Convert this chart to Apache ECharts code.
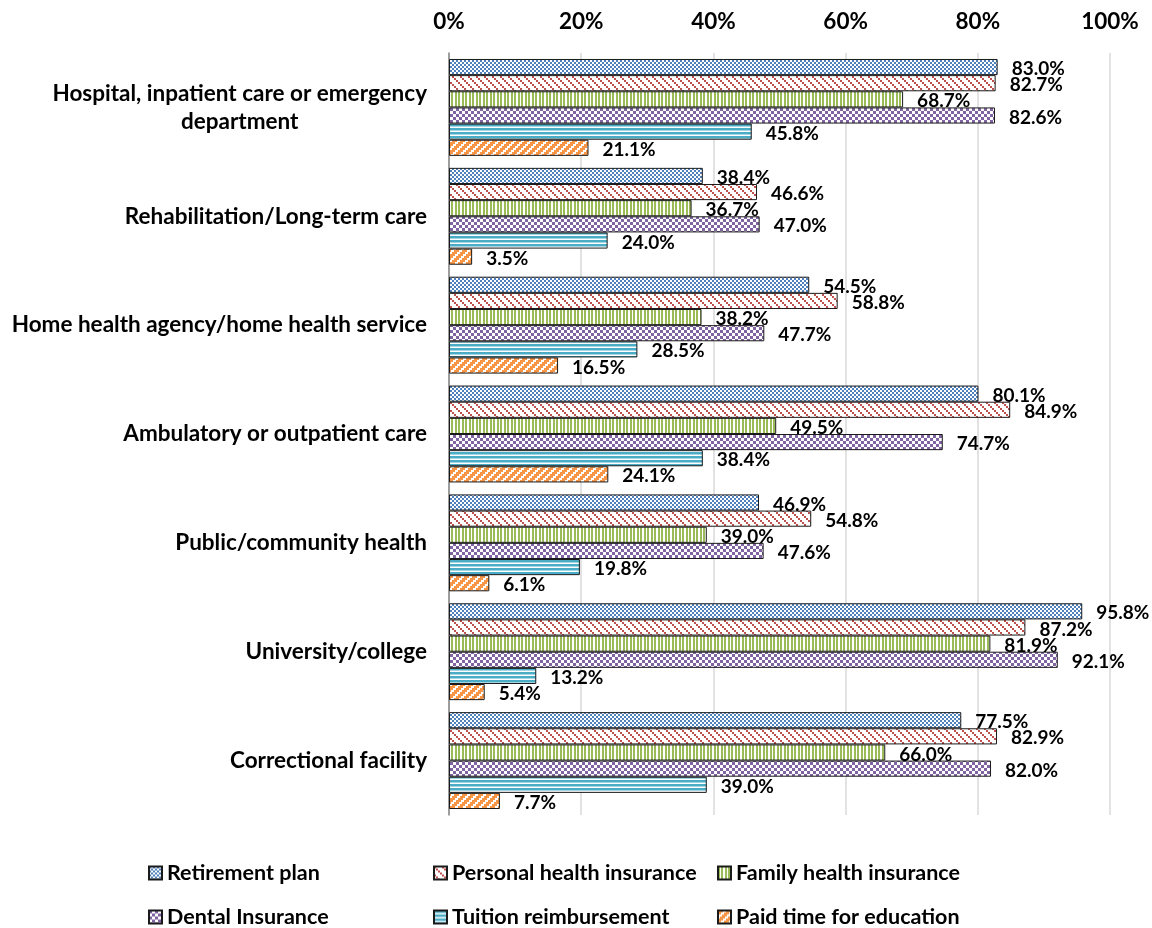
<!DOCTYPE html>
<html>
<head>
<meta charset="utf-8">
<script src="https://cdn.jsdelivr.net/npm/echarts/dist/echarts.min.js"></script>
<style>
  html, body { margin: 0; padding: 0; background: #fff; }
  #chart { width: 1152px; height: 928px; }
</style>
</head>
<body>
<div id="chart"></div>
<script>
// categories, top to bottom
var settings = [
  'Hospital, inpatient care or emergency\ndepartment',
  'Rehabilitation/Long-term care',
  'Home health agency/home health service',
  'Ambulatory or outpatient care',
  'Public/community health',
  'University/college',
  'Correctional facility'
];
var retirement = [83.0, 38.4, 54.5, 80.1, 46.9, 95.8, 77.5];
var personalHealth = [82.7, 46.6, 58.8, 84.9, 54.8, 87.2, 82.9];
var familyHealth = [68.7, 36.7, 38.2, 49.5, 39.0, 81.9, 66.0];
var dental = [82.6, 47.0, 47.7, 74.7, 47.6, 92.1, 82.0];
var tuition = [45.8, 24.0, 28.5, 38.4, 19.8, 13.2, 39.0];
var paidTime = [21.1, 3.5, 16.5, 24.1, 6.1, 5.4, 7.7];
var xTicks = [0, 20, 40, 60, 80, 100];

var FONT = 'Lato';

// small excel-like fill patterns drawn on a canvas tile
function tile(w, h, draw) {
  var c = document.createElement('canvas');
  c.width = w; c.height = h;
  var ctx = c.getContext('2d');
  ctx.fillStyle = '#fff';
  ctx.fillRect(0, 0, w, h);
  draw(ctx);
  return { image: c, repeat: 'repeat' };
}
var patterns = {
  check: tile(4, 4, function (ctx) {
    ctx.fillStyle = '#4f81bd';
    ctx.fillRect(0, 0, 2, 2);
    ctx.fillRect(2, 2, 2, 2);
  }),
  down: tile(8, 8, function (ctx) {
    ctx.fillStyle = '#c0504d';
    for (var k = 0; k < 4; k++) ctx.fillRect(2 * k, 2 * k, 2, 2);
  }),
  vert: tile(7, 4, function (ctx) {
    ctx.fillStyle = '#9bbb59';
    ctx.fillRect(0, 0, 2, 4);
    ctx.fillRect(3, 0, 2, 4);
  }),
  bigCheck: tile(6, 6, function (ctx) {
    ctx.fillStyle = '#8064a2';
    ctx.fillRect(0, 0, 3, 3);
    ctx.fillRect(3, 3, 3, 3);
  }),
  horiz: tile(4, 4, function (ctx) {
    ctx.fillStyle = '#4bacc6';
    ctx.fillRect(0, 0, 4, 2.5);
  }),
  up: tile(8, 8, function (ctx) {
    ctx.fillStyle = '#f79646';
    for (var k = 0; k < 4; k++) {
      var x0 = (8 - 2 * k) % 8;
      ctx.fillRect(x0, 2 * k, 5, 2);
      ctx.fillRect(x0 - 8, 2 * k, 5, 2);
    }
  })
};

function makeSeries(name, data, pattern) {
  return {
    name: name,
    type: 'bar',
    data: data,
    barGap: '0%',
    barCategoryGap: '11%',
    itemStyle: { color: pattern, borderColor: '#1a1a1a', borderWidth: 1 },
    label: {
      show: true,
      position: 'right',
      distance: 14,
      offset: [0, 2],
      color: '#000',
      fontFamily: FONT,
      fontWeight: 'bold',
      fontSize: 19,
      formatter: function (p) { return p.value.toFixed(1) + '%'; }
    }
  };
}

// one legend component per item so the 3x2 grid lines up like the original
var legendText = { color: '#000', fontFamily: FONT, fontWeight: 'bold', fontSize: 21.5, lineHeight: 22 };
function legendItem(name, left, top) {
  return {
    left: left, top: top,
    itemWidth: 13, itemHeight: 13, itemGap: 0,
    icon: 'rect', data: [name], textStyle: legendText,
    selectedMode: false
  };
}

var chart = echarts.init(document.getElementById('chart'));
chart.setOption({
  backgroundColor: '#fff',
  animation: false,
  grid: { left: 449, right: 42, top: 53, bottom: 113, outerBoundsMode: 'none' },
  legend: [
    legendItem('Retirement plan', 143, 857),
    legendItem('Personal health insurance', 428, 857),
    legendItem('Family health insurance', 712, 857),
    legendItem('Dental Insurance', 143, 901),
    legendItem('Tuition reimbursement', 428, 901),
    legendItem('Paid time for education', 712, 901)
  ],
  xAxis: {
    type: 'value',
    position: 'top',
    min: xTicks[0],
    max: xTicks[xTicks.length - 1],
    interval: xTicks[1] - xTicks[0],
    axisLine: { show: false },
    axisTick: { show: false },
    splitLine: { show: true, lineStyle: { color: '#d9d9d9', width: 1.5 } },
    axisLabel: {
      margin: 20, color: '#000', fontFamily: FONT, fontWeight: 'bold', fontSize: 22.5,
      formatter: '{value}%'
    }
  },
  yAxis: {
    type: 'category',
    inverse: true,
    data: settings,
    axisLine: { show: true, lineStyle: { color: '#868686', width: 1.5 } },
    axisTick: { show: false },
    axisLabel: {
      margin: 22,
      formatter: function (v) {
        return v.split('\n').map(function (s) { return '{c|' + s + '}'; }).join('\n');
      },
      rich: {
        c: { align: 'center', color: '#000', fontFamily: FONT, fontWeight: 'bold', fontSize: 22.5, lineHeight: 28 }
      }
    }
  },
  series: [
    makeSeries('Retirement plan', retirement, patterns.check),
    makeSeries('Personal health insurance', personalHealth, patterns.down),
    makeSeries('Family health insurance', familyHealth, patterns.vert),
    makeSeries('Dental Insurance', dental, patterns.bigCheck),
    makeSeries('Tuition reimbursement', tuition, patterns.horiz),
    makeSeries('Paid time for education', paidTime, patterns.up)
  ]
});
</script>
</body>
</html>
